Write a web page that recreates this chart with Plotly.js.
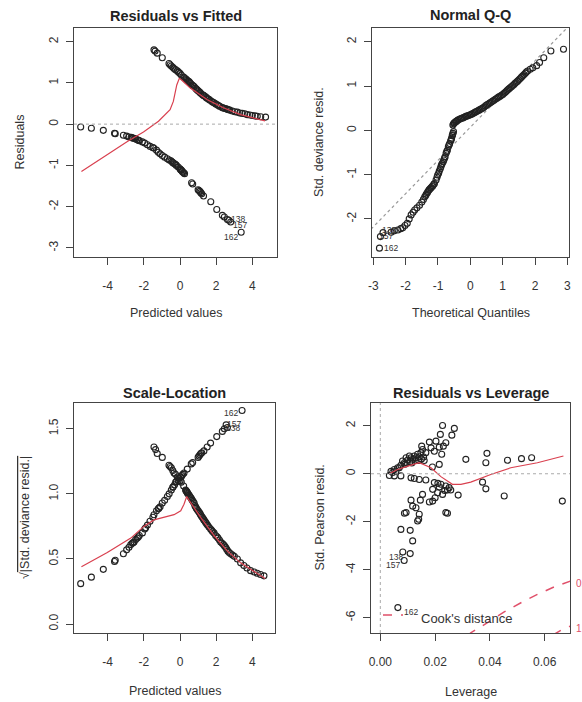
<!DOCTYPE html>
<html><head><meta charset="utf-8">
<script src="https://cdn.plot.ly/plotly-3.0.1.min.js"></script>
<style>html,body{margin:0;padding:0;background:#fff}</style>
</head><body><div id="chart" style="width:582px;height:702px"></div>
<script>
// ---------- Panel 1: Residuals vs Fitted ----------
const rvfLowX = [-5.49,-4.90,-4.24,-3.62,-3.58,-3.13,-2.95,-2.82,-2.70,-2.64,-2.50,-2.36,-2.25,-2.08,-1.95,-1.80,-1.65,-1.50,-1.45,-1.30,-0.98,-0.85,-0.70,-0.60,-0.50,-0.43,-0.30,-0.24,-0.10,0.00,0.03,0.08,0.12,0.20,0.64,0.70,1.00,1.05,1.15,1.30,1.70,2.03,2.34,2.45,2.62,
  -2.60,-2.45,-2.30,-1.20,-1.10,-0.38,-0.20,0.05,0.15,0.25,1.10,1.20];
const rvfLowY = [-0.07,-0.10,-0.15,-0.22,-0.23,-0.27,-0.29,-0.31,-0.32,-0.33,-0.35,-0.38,-0.40,-0.43,-0.46,-0.50,-0.54,-0.57,-0.58,-0.63,-0.76,-0.80,-0.84,-0.87,-0.89,-0.92,-0.96,-0.98,-1.04,-1.08,-1.10,-1.12,-1.14,-1.18,-1.42,-1.45,-1.59,-1.61,-1.66,-1.74,-1.88,-2.07,-2.21,-2.25,-2.31,
  -0.34,-0.36,-0.39,-0.68,-0.72,-0.94,-1.00,-1.11,-1.16,-1.20,-1.63,-1.69];
const rvfUpX = [-1.44,-1.38,-1.26,-0.98,-0.61,-0.55,-0.48,-0.40,-0.33,-0.25,-0.15,-0.08,0.00,0.07,0.20,0.31,0.40,0.50,0.60,0.68,0.78,0.86,0.95,1.05,1.14,1.23,1.32,1.42,1.52,1.66,1.76,1.88,1.97,2.06,2.20,2.34,2.48,2.62,2.75,2.89,3.03,3.17,3.30,3.44,3.58,3.72,3.86,4.00,4.15,4.27,4.46,4.73,
  0.25,0.35,0.45,0.55,0.72,0.90,1.00,1.10,1.28,1.46,1.60,1.82,2.12,2.40,2.55,2.68];
const rvfUpY = [1.80,1.77,1.72,1.61,1.47,1.44,1.41,1.38,1.35,1.32,1.29,1.26,1.23,1.19,1.14,1.10,1.06,1.03,0.98,0.95,0.91,0.87,0.83,0.79,0.75,0.72,0.69,0.66,0.62,0.58,0.55,0.52,0.49,0.47,0.43,0.40,0.38,0.36,0.34,0.32,0.30,0.29,0.27,0.26,0.25,0.23,0.22,0.21,0.20,0.19,0.18,0.17,
  1.12,1.08,1.04,1.00,0.93,0.85,0.81,0.77,0.70,0.64,0.60,0.53,0.45,0.39,0.37,0.35];
const rvfSmoothX = [-5.45,-4.02,-2.91,-2.02,-1.19,-0.55,-0.37,-0.18,-0.04,0.09,0.55,1.51,2.43,3.35,4.70];
const rvfSmoothY = [-1.15,-0.73,-0.42,-0.19,0.07,0.35,0.55,0.95,1.11,1.07,0.88,0.59,0.39,0.23,0.08];
const rvfIdText = ["138","157","162"];
const rvfIdX = [2.70,2.80,3.38];
const rvfIdY = [-2.33,-2.37,-2.62];

// ---------- Panel 2: Normal Q-Q ----------
const qqX = [-2.45,-2.35,-2.24,-2.15,-2.09,-2.02,-1.95,-1.89,-1.83,-1.77,-1.72,-1.65,-1.57,-1.50,-1.45,-1.41,-1.36,-1.31,-1.26,-1.21,-1.16,-1.11,-1.06,-1.01,-0.96,-0.91,-0.87,-0.82,-0.78,-0.75,-0.71,-0.68,-0.64,-0.61,-0.58,-0.56,-0.54,-0.52,
  -1.03,-0.98,-0.93,-0.89,-0.84,-0.80,-0.73,-0.66,-0.59,-0.55,-1.13,-1.18,-1.23,-1.28,-1.33,-1.38,
  -0.54,-0.52,-0.49,-0.44,-0.39,-0.31,-0.23,-0.15,-0.08,0.00,0.08,0.15,0.23,0.30,0.38,0.46,0.54,0.61,0.69,0.77,0.85,0.92,1.00,1.08,1.15,1.23,1.31,1.38,1.46,1.54,1.62,1.70,1.77,1.85,1.93,2.05,2.14,2.27,2.49,2.88,
  -0.50,-0.46,-0.42,-0.35,-0.27,-0.19,-0.12,-0.04,0.04,0.12,0.19,0.27,0.34,0.42,0.50,0.58,0.65,0.73,0.81,0.88,0.96,1.04,1.12,1.19,1.27,1.35,1.42,1.50,1.58,1.66,1.73];
const qqY = [-2.30,-2.27,-2.25,-2.22,-2.20,-2.15,-2.10,-2.00,-1.91,-1.85,-1.80,-1.75,-1.69,-1.62,-1.56,-1.50,-1.44,-1.38,-1.33,-1.29,-1.25,-1.20,-1.12,-1.01,-0.92,-0.82,-0.75,-0.67,-0.60,-0.52,-0.45,-0.37,-0.30,-0.24,-0.18,-0.12,-0.07,-0.03,
  -1.06,-0.97,-0.87,-0.78,-0.71,-0.63,-0.48,-0.33,-0.21,-0.10,-1.22,-1.27,-1.31,-1.35,-1.41,-1.47,
  0.12,0.15,0.17,0.20,0.23,0.26,0.28,0.31,0.33,0.35,0.38,0.41,0.44,0.47,0.50,0.55,0.59,0.62,0.66,0.70,0.74,0.77,0.81,0.86,0.91,0.96,1.01,1.06,1.11,1.17,1.23,1.29,1.34,1.38,1.41,1.46,1.53,1.64,1.79,1.83,
  0.165,0.19,0.21,0.245,0.27,0.295,0.32,0.34,0.365,0.395,0.425,0.455,0.485,0.52,0.57,0.605,0.64,0.68,0.72,0.755,0.79,0.835,0.885,0.935,0.985,1.035,1.085,1.14,1.20,1.26,1.315];
const qqLineX = [-3.2,3.2];
const qqLineY = [-2.33,2.47];
const qqIdText = ["138","157","162"];
const qqIdX = [-2.70,-2.78,-2.81];
const qqIdY = [-2.31,-2.40,-2.66];

// ---------- Panel 3: Scale-Location ----------
const slRiseX = [-5.49,-4.90,-4.24,-3.62,-3.58,-3.13,-2.95,-2.82,-2.72,-2.64,-2.54,-2.45,-2.36,-2.25,-2.08,-1.95,-1.90,-1.80,-1.66,-1.50,-1.44,-1.30,-1.17,-0.98,-0.85,-0.70,-0.60,-0.48,-0.40,-0.30,-0.24,-0.10,-0.06,0.03,0.10,0.22,0.40,0.62,0.70,1.00,1.05,1.15,1.32,1.50,1.69,2.03,2.34,2.45,
  -2.60,-2.30,-1.20,-1.10,-0.38,-0.20,0.05,0.15,1.10,1.20];
const slRiseY = [0.31,0.36,0.42,0.48,0.49,0.54,0.57,0.59,0.61,0.62,0.63,0.65,0.66,0.68,0.70,0.73,0.74,0.76,0.79,0.82,0.84,0.87,0.89,0.93,0.95,0.98,1.00,1.03,1.05,1.07,1.09,1.10,1.12,1.13,1.14,1.16,1.19,1.23,1.24,1.28,1.29,1.31,1.33,1.36,1.39,1.44,1.48,1.50,
  0.625,0.67,0.885,0.90,1.055,1.095,1.13,1.15,1.30,1.315];
const slFallX = [-1.44,-1.35,-1.26,-0.98,-0.61,-0.55,-0.48,-0.40,-0.33,-0.25,-0.15,-0.08,0.00,0.07,0.20,0.31,0.36,0.40,0.45,0.50,0.60,0.68,0.78,0.86,0.95,1.05,1.14,1.23,1.32,1.42,1.52,1.69,1.80,1.97,2.10,2.25,2.40,2.52,2.65,2.80,3.00,3.17,3.35,3.53,3.70,3.90,4.10,4.27,4.45,4.64,
  0.33,0.38,0.42,0.55,0.64,0.73,0.82,0.90,1.00,1.10,1.18,1.28,1.38,1.47,1.60,1.75,1.88,2.05,2.18,2.33,2.46,2.58,2.72,2.90];
const slFallY = [1.36,1.34,1.31,1.28,1.22,1.21,1.20,1.18,1.16,1.15,1.13,1.12,1.10,1.09,1.06,1.03,1.02,1.01,1.00,0.99,0.97,0.95,0.93,0.90,0.88,0.86,0.84,0.82,0.80,0.78,0.76,0.73,0.71,0.68,0.66,0.63,0.61,0.59,0.56,0.54,0.52,0.50,0.47,0.45,0.43,0.41,0.40,0.39,0.38,0.37,
  1.025,1.015,1.005,0.98,0.96,0.94,0.91,0.89,0.87,0.85,0.83,0.81,0.79,0.77,0.745,0.72,0.70,0.67,0.645,0.62,0.60,0.575,0.55,0.53];
const slSmoothX = [-5.45,-4.02,-2.72,-2.00,-1.44,-0.88,-0.33,0.04,0.22,0.37,0.50,1.14,1.88,2.62,3.35,4.70];
const slSmoothY = [0.44,0.55,0.66,0.75,0.80,0.82,0.84,0.87,0.92,0.98,0.95,0.82,0.68,0.56,0.47,0.35];
const slIdText = ["162","157","138"];
const slIdX = [3.43,2.55,2.62];
const slIdY = [1.64,1.53,1.51];

// ---------- Panel 4: Residuals vs Leverage ----------
const levX = [0.0033,0.0051,0.0075,0.0039,0.0045,0.0051,0.0057,0.0063,0.0069,0.0075,0.0081,0.0088,0.0094,0.0100,0.0106,0.0112,0.0118,0.0124,0.0130,0.0136,0.0142,0.0148,0.0154,0.0151,0.0090,0.0098,0.0108,0.0115,0.0128,0.0140,0.0150,0.0158,0.0160,
  0.0227,0.0270,0.0261,0.0219,0.0179,0.0203,0.0239,0.0215,0.0197,0.0224,0.0215,0.0185,0.0166,0.0230,0.0190,0.0312,0.0389,0.0385,0.0464,0.0515,0.0552,
  0.0112,0.0124,0.0142,0.0166,0.0197,0.0210,0.0221,0.0239,0.0251,0.0257,0.0191,0.0209,0.0227,0.0245,0.0284,0.0373,0.0385,0.0452,0.0664,0.0154,0.0179,0.0191,0.0146,0.0112,0.0118,0.0130,0.0094,0.0088,0.0142,0.0136,0.0140,0.0239,0.0245,0.0075,0.0109,0.0118,0.0109,0.0200,0.0215,0.0235];
const levY = [-0.07,-0.09,-0.09,0.10,0.05,0.18,0.11,0.25,0.25,0.35,0.53,0.46,0.67,0.57,0.74,0.67,0.60,0.74,0.67,0.81,0.71,0.88,1.01,1.15,0.40,0.45,0.50,0.45,0.55,0.55,0.62,0.70,0.55,
  2.01,1.89,1.61,1.64,1.32,1.36,1.29,1.11,0.94,0.81,0.39,1.08,0.88,1.15,0.28,0.60,0.85,0.46,0.56,0.63,0.67,
  -0.17,-0.20,-0.24,-0.26,-0.37,-0.40,-0.44,-0.51,-0.58,-0.68,-0.65,-0.79,-0.86,-0.68,-0.89,-0.35,-0.63,-0.93,-1.14,-0.86,-1.18,-1.14,-1.10,-1.10,-1.35,-1.42,-1.62,-1.65,-1.69,-1.97,-1.90,-1.62,-1.65,-2.32,-2.36,-2.80,-3.33,-1.00,-0.55,-0.70];
const levSmoothX = [0.0033,0.0063,0.0100,0.0142,0.0185,0.0221,0.0263,0.0294,0.0330,0.0403,0.0476,0.0573,0.0668];
const levSmoothY = [0.00,0.18,0.32,0.46,0.25,-0.12,-0.44,-0.44,-0.35,-0.03,0.25,0.46,0.74];
const cook05X = [0.0320,0.0330,0.0391,0.0452,0.0513,0.0573,0.0634,0.0700];
const cook05Y = [-6.75,-6.63,-6.21,-5.76,-5.38,-5.03,-4.72,-4.45];
const cook1X = [0.0630,0.0660,0.0700];
const cook1Y = [-6.72,-6.52,-6.32];
const levIdText = ["138","157","162"];
const levIdX = [0.0082,0.0087,0.0064];
const levIdY = [-3.26,-3.62,-5.58];

// ---------- tick labels ----------
const fitTicks = [-4,-2,0,2,4], fitTickText = ["-4","-2","0","2","4"];
const rvfYTicks = [-3,-2,-1,0,1,2], rvfYTickText = ["-3","-2","-1","0","1","2"];
const qqXTicks = [-3,-2,-1,0,1,2,3], qqXTickText = ["-3","-2","-1","0","1","2","3"];
const qqYTicks = [-2,-1,0,1,2], qqYTickText = ["-2","-1","0","1","2"];
const slYTicks = [0,0.5,1,1.5], slYTickText = ["0.0","0.5","1.0","1.5"];
const levXTicks = [0,0.02,0.04,0.06], levXTickText = ["0.00","0.02","0.04","0.06"];
const levYTicks = [-6,-4,-2,0,2], levYTickText = ["-6","-4","-2","0","2"];

// ---------- styling / layout ----------
const W = 582, H = 702;
const FONT = "Liberation Sans, Arial, sans-serif";
const INK = "#333";
const RED = "#d9404f";
const fx = v => v / W, fy = v => 1 - v / H;

function axis(dom, range, vals, text, anchor, isY) {
  return {
    domain: isY ? [fy(dom[1]), fy(dom[0])] : [fx(dom[0]), fx(dom[1])],
    range: range, tickmode: "array", tickvals: vals, ticktext: text,
    ticks: "outside", ticklen: 7, tickwidth: 1, tickcolor: "#444",
    showline: true, mirror: true, linecolor: "#444", linewidth: 1,
    showgrid: false, zeroline: false, anchor: anchor, fixedrange: true,
    tickangle: isY ? -90 : 0,
    ticklabelstandoff: isY ? 3 : 11,
    tickfont: {family: FONT, size: 12, color: INK}
  };
}

const mk = {symbol: "circle-open", size: 6, color: "#222", line: {width: 1.1, color: "#222"}};
function pts(x, y, xa, ya) { return {x: x, y: y, xaxis: xa, yaxis: ya, type: "scatter", mode: "markers", marker: mk, hoverinfo: "skip"}; }
function line(x, y, xa, ya, color, dash, width) { return {x: x, y: y, xaxis: xa, yaxis: ya, type: "scatter", mode: "lines", line: {color: color, dash: dash || "solid", width: width || 1.2}, hoverinfo: "skip"}; }

const traces = [
  pts(rvfLowX, rvfLowY, "x", "y"), pts(rvfUpX, rvfUpY, "x", "y"), pts(rvfIdX, rvfIdY, "x", "y"),
  line(rvfSmoothX, rvfSmoothY, "x", "y", RED),
  line(qqLineX, qqLineY, "x2", "y2", "#999", "dot", 1.2),
  pts(qqX, qqY, "x2", "y2"), pts(qqIdX, qqIdY, "x2", "y2"),
  pts(slRiseX, slRiseY, "x3", "y3"), pts(slFallX, slFallY, "x3", "y3"), pts(slIdX, slIdY, "x3", "y3"),
  line(slSmoothX, slSmoothY, "x3", "y3", RED),
  pts(levX, levY, "x4", "y4"), pts(levIdX, levIdY, "x4", "y4"),
  line(levSmoothX, levSmoothY, "x4", "y4", RED),
  line(cook05X, cook05Y, "x4", "y4", "#e0506a", "dash", 1.5),
  line(cook1X, cook1Y, "x4", "y4", "#e0506a", "dash", 1.5)
];

const ann = [];
function txt(x, y, text, size, opts) {
  ann.push(Object.assign({xref: "paper", yref: "paper", x: fx(x), y: fy(y), text: text, showarrow: false,
    xanchor: "center", yanchor: "middle", font: {family: FONT, size: size, color: INK}}, opts || {}));
}
txt(175.5, 16, "<b>Residuals vs Fitted</b>", 14.5, {font: {family: FONT, size: 14.5, color: "#222"}});
txt(470.5, 15, "<b>Normal Q-Q</b>", 14.5, {font: {family: FONT, size: 14.5, color: "#222"}});
txt(174.5, 393, "<b>Scale-Location</b>", 14.5, {font: {family: FONT, size: 14.5, color: "#222"}});
txt(470.5, 393, "<b>Residuals vs Leverage</b>", 14.5, {font: {family: FONT, size: 14.5, color: "#222"}});
txt(175.5, 313, "Predicted values", 12.5);
txt(470.5, 313, "Theoretical Quantiles", 12.5);
txt(174.5, 691, "Predicted values", 12.5);
txt(470.5, 692, "Leverage", 12.5);
txt(20, 142.5, "Residuals", 12.5, {textangle: -90});
txt(319.5, 142.5, "Std. deviance resid.", 12.5, {textangle: -90});
txt(25, 518, "\u221A<span style=\"text-decoration:overline\">|Std. deviance resid.|</span>", 12.5, {textangle: -90});
txt(319.5, 518, "Std. Pearson resid.", 12.5, {textangle: -90});
txt(419, 618, "Cook's distance", 13, {xanchor: "left"});
txt(574, 583, "0.5", 10, {xanchor: "left", font: {family: FONT, size: 10, color: "#e0506a"}});
txt(574, 628, "1", 10, {xanchor: "left", font: {family: FONT, size: 10, color: "#e0506a"}});

function idLabels(texts, xs, ys, xa, ya, shifts) {
  texts.forEach((t, i) => ann.push({xref: xa, yref: ya, x: xs[i], y: ys[i], text: t, showarrow: false,
    xanchor: "center", yanchor: "middle", xshift: shifts[i][0], yshift: shifts[i][1],
    font: {family: FONT, size: 8.5, color: INK}}));
}
idLabels(rvfIdText, rvfIdX, rvfIdY, "x", "y", [[9, 1], [9, -3], [-10.5, -4.8]]);
idLabels(qqIdText, qqIdX, qqIdY, "x2", "y2", [[6, 2.5], [6, 1], [11.5, 0]]);
idLabels(slIdText, slIdX, slIdY, "x3", "y3", [[-11.5, -2], [8, 0.7], [6, -1]]);
idLabels(levIdText, levIdX, levIdY, "x4", "y4", [[-7, -5.5], [-11.5, -4], [13, -4.3]]);

const shapes = [
  {type: "line", xref: "x domain", yref: "y", x0: 0, x1: 1, y0: 0, y1: 0, line: {color: "#aaa", width: 1, dash: "dot"}},
  {type: "line", xref: "x4 domain", yref: "y4", x0: 0, x1: 1, y0: 0, y1: 0, line: {color: "#aaa", width: 1, dash: "dot"}},
  {type: "line", xref: "x4", yref: "y4 domain", x0: 0, x1: 0, y0: 0, y1: 1, line: {color: "#aaa", width: 1, dash: "dot"}},
  {type: "line", xref: "paper", yref: "paper", x0: fx(383), x1: fx(403), y0: fy(615), y1: fy(615), line: {color: "#e0506a", width: 1.5, dash: "dash"}}
];

const layout = {
  width: W, height: H, margin: {l: 0, r: 0, t: 0, b: 0},
  paper_bgcolor: "#fff", plot_bgcolor: "#fff", showlegend: false,
  font: {family: FONT, color: INK},
  xaxis: axis([74, 277], [-5.86, 5.36], fitTicks, fitTickText, "y", false),
  yaxis: axis([28, 257], [-3.22, 2.33], rvfYTicks, rvfYTickText, "x", true),
  xaxis2: axis([372, 569], [-3.04, 3.05], qqXTicks, qqXTickText, "y2", false),
  yaxis2: axis([28, 257], [-2.86, 2.31], qqYTicks, qqYTickText, "x2", true),
  xaxis3: axis([74, 275], [-5.86, 5.25], fitTicks, fitTickText, "y3", false),
  yaxis3: axis([403, 633], [-0.069, 1.698], slYTicks, slYTickText, "x3", true),
  xaxis4: axis([371, 570], [-0.0034, 0.0692], levXTicks, levXTickText, "y4", false),
  yaxis4: axis([403, 633], [-6.64, 2.95], levYTicks, levYTickText, "x4", true),
  annotations: ann, shapes: shapes
};
Plotly.newPlot("chart", traces, layout, {displayModeBar: false, staticPlot: true});
</script></body></html>
